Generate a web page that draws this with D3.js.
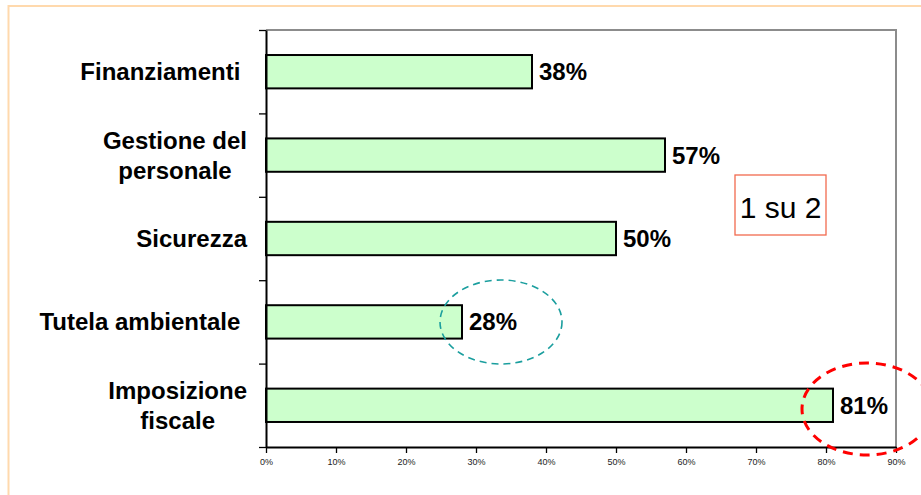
<!DOCTYPE html>
<html><head><meta charset="utf-8">
<script src="https://cdn.jsdelivr.net/npm/d3@7"></script>
<style>
html,body{margin:0;padding:0;background:#fff;}
svg{display:block;font-family:Arial,"Liberation Sans",sans-serif;}
</style></head>
<body>
<svg id="chart" width="921" height="495"></svg>
<script>
const categories = ["Finanziamenti ", "Gestione del|personale", "Sicurezza", "Tutela ambientale ", "Imposizione|fiscale"];
const values = [0.38, 0.57, 0.50, 0.28, 0.81];
const xTicks = [0, 0.1, 0.2, 0.3, 0.4, 0.5, 0.6, 0.7, 0.8, 0.9];
const calloutText = "1 su 2";

const svg = d3.select("#chart");
const L = 266, R = 896, T = 30, B = 447;

// outer peach frame
svg.append("rect").attr("x", 8.5).attr("y", 6).attr("width", 940).attr("height", 520)
  .attr("fill", "none").attr("stroke", "#ffd9ad").attr("stroke-width", 2);

const x = d3.scaleLinear().domain([0, 0.9]).range([L, R]);
const y = d3.scaleBand().domain(categories).range([T, B]).paddingInner(0.6).paddingOuter(0.3);
const yb = d3.scaleLinear().domain([0, categories.length]).range([T, B]);

// plot border (top & right gray)
svg.append("path").attr("d", `M${L},${T}H${R}V${B}`).attr("fill", "none")
  .attr("stroke", "#8c8c8c").attr("stroke-width", 2);

// bars
svg.append("g").selectAll("rect").data(categories).join("rect")
  .attr("x", x(0)).attr("y", d => y(d))
  .attr("width", (d, i) => x(values[i]) - x(0)).attr("height", y.bandwidth())
  .attr("fill", "#ccffcc").attr("stroke", "#000").attr("stroke-width", 2);

// value labels
svg.append("g").selectAll("text").data(categories).join("text")
  .attr("x", (d, i) => x(values[i]) + 7).attr("y", d => y(d) + y.bandwidth() / 2 + 8.5)
  .attr("font-size", 24).attr("font-weight", "bold").attr("fill", "#000")
  .text((d, i) => Math.round(values[i] * 100) + "%");

// x axis
const xa = svg.append("g").attr("transform", `translate(0,${B})`)
  .call(d3.axisBottom(x).tickValues(xTicks).tickFormat(d3.format(".0%")).tickSize(6).tickSizeOuter(0));
xa.select(".domain").attr("stroke", "#000").attr("stroke-width", 2);
xa.selectAll(".tick line").attr("stroke", "#000").attr("stroke-width", 1.3);
xa.selectAll(".tick text").attr("font-size", 9).attr("fill", "#222").attr("dy", "1.05em")
  .attr("font-family", "Arial, 'Liberation Sans', sans-serif");

// y axis (ticks at band boundaries)
const ya = svg.append("g").attr("transform", `translate(${L},0)`)
  .call(d3.axisLeft(yb).tickValues(d3.range(categories.length + 1)).tickFormat("").tickSize(7).tickSizeOuter(0));
ya.select(".domain").attr("stroke", "#000").attr("stroke-width", 2);
ya.selectAll(".tick line").attr("stroke", "#000").attr("stroke-width", 1.3);

// category labels (right aligned block, lines centered)
const labG = svg.append("g");
categories.forEach(c => {
  const lines = c.split("|");
  const cy = y(c) + y.bandwidth() / 2;
  const lh = 30;
  const t = labG.append("text").attr("font-size", 24).attr("font-weight", "bold")
    .attr("fill", "#000").style("white-space", "pre").attr("text-anchor", "middle");
  const spans = lines.map((ln, i) => t.append("tspan").text(ln)
    .attr("y", cy - (lines.length - 1) * lh / 2 + i * lh + 8.5));
  const w = d3.max(spans, s => s.node().getComputedTextLength());
  spans.forEach(s => s.attr("x", 247 - w / 2));
});

// callout box
svg.append("rect").attr("x", 735).attr("y", 175).attr("width", 91).attr("height", 60)
  .attr("fill", "#fff").attr("stroke", "#f26a4f").attr("stroke-width", 1.3);
svg.append("text").attr("x", 780.5).attr("y", 218).attr("text-anchor", "middle")
  .attr("font-size", 30).attr("fill", "#000").text(calloutText);

// ellipses
svg.append("ellipse").attr("cx", 501).attr("cy", 322).attr("rx", 61).attr("ry", 42)
  .attr("fill", "none").attr("stroke", "#1a9e9e").attr("stroke-width", 1.6).attr("stroke-dasharray", "7,5");
svg.append("ellipse").attr("cx", 867).attr("cy", 409).attr("rx", 65).attr("ry", 46)
  .attr("fill", "none").attr("stroke", "#ff0000").attr("stroke-width", 3).attr("stroke-dasharray", "10,7");
</script>
</body></html>
